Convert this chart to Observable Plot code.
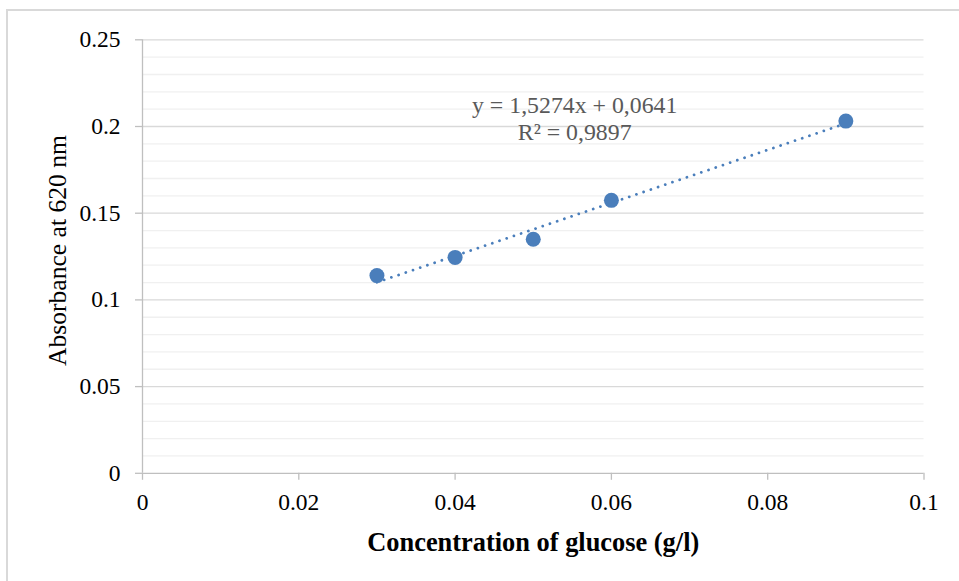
<!DOCTYPE html>
<html><head><meta charset="utf-8">
<script src="https://cdn.jsdelivr.net/npm/d3@7"></script>
<script src="https://cdn.jsdelivr.net/npm/@observablehq/plot@0.6"></script>
<style>
html,body{margin:0;padding:0;background:#fff;overflow:hidden;}
#wrap{position:relative;width:959px;height:581px;overflow:hidden;}
#border{position:absolute;left:6px;top:9px;width:1000px;height:1000px;border:2px solid #d9d9d9;box-sizing:border-box;}
#chart{position:absolute;left:0;top:0;}
</style></head><body>
<div id="wrap"><div id="border"></div><div id="chart"></div></div>
<script>
const concentration = [0.03, 0.04, 0.05, 0.06, 0.09];
const absorbance = [0.114, 0.1245, 0.135, 0.1574, 0.2031];
const xTicks = [0, 0.02, 0.04, 0.06, 0.08, 0.1];
const xTickLabels = ["0", "0.02", "0.04", "0.06", "0.08", "0.1"];
const yTicks = [0, 0.05, 0.1, 0.15, 0.2, 0.25];
const yTickLabels = ["0", "0.05", "0.1", "0.15", "0.2", "0.25"];
const yMinorTicks = [0.01, 0.02, 0.03, 0.04, 0.06, 0.07, 0.08, 0.09, 0.11, 0.12, 0.13, 0.14, 0.16, 0.17, 0.18, 0.19, 0.21, 0.22, 0.23, 0.24];
const equationLines = ["y = 1,5274x + 0,0641", "R² = 0,9897"];
const equationPos = {x: 0.0553, y: 0.2052};
const xTitle = "Concentration of glucose (g/l)";
const yTitle = "Absorbance at 620 nm";

const points = concentration.map((c, i) => ({x: c, y: absorbance[i]}));
const blue = "#4a7ebb";
const axisGray = "#bfbfbf";

const chart = Plot.plot({
  width: 959,
  height: 581,
  marginLeft: 142,
  marginRight: 35.5,
  marginTop: 39.3,
  marginBottom: 108.2,
  style: {fontFamily: "'Liberation Serif', 'Times New Roman', serif", background: "transparent", color: "black", overflow: "visible"},
  x: {domain: [0, 0.1]},
  y: {domain: [0, 0.25]},
  marks: [
    Plot.ruleY(yMinorTicks, {stroke: "#f0f0f0", strokeWidth: 1.3}),
    Plot.ruleY(yTicks.filter(d => d > 0), {stroke: "#d9d9d9", strokeWidth: 1.3}),
    Plot.ruleX([0], {stroke: axisGray, strokeWidth: 1.3}),
    Plot.ruleY([0], {stroke: axisGray, strokeWidth: 1.3}),
    Plot.axisY(yTicks, {tickSize: 7, tickPadding: 15, fontSize: 23.5, stroke: axisGray, strokeWidth: 1.3, label: null,
      tickFormat: d => yTickLabels[yTicks.indexOf(d)]}),
    Plot.axisX(xTicks, {tickSize: 7, tickPadding: 13, fontSize: 23.5, stroke: axisGray, strokeWidth: 1.3, label: null,
      tickFormat: d => xTickLabels[xTicks.indexOf(d)]}),
    Plot.linearRegressionY(points, {x: "x", y: "y", ci: 0, stroke: blue, strokeWidth: 2.8,
      strokeDasharray: "0.01 7.6", strokeLinecap: "round"}),
    Plot.dot(points, {x: "x", y: "y", r: 7.5, fill: blue}),
    Plot.text([equationLines.join("\n")], {x: () => equationPos.x, y: () => equationPos.y, fontSize: 23.8,
      lineHeight: 1.16, fill: "#595959", textAnchor: "middle", lineAnchor: "middle"}),
    Plot.text([xTitle], {frameAnchor: "bottom", dy: 69.6, fontSize: 26.4, fontWeight: "bold", textAnchor: "middle", lineAnchor: "middle"}),
    Plot.text([yTitle], {frameAnchor: "left", dx: -84.5, dy: -6, rotate: -90, fontSize: 25.6, textAnchor: "middle", lineAnchor: "middle"})
  ]
});
document.getElementById("chart").appendChild(chart);
</script>
</body></html>
